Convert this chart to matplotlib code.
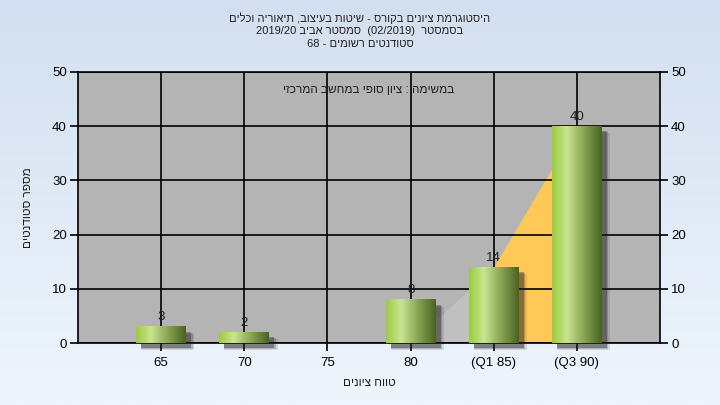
import re
import numpy as np
import matplotlib
matplotlib.use("Agg")
import matplotlib.pyplot as plt
from matplotlib.colors import LinearSegmentedColormap
from matplotlib.patches import Rectangle

plt.rcParams['font.family'] = ['Liberation Sans', 'DejaVu Sans']

# data
grades = [65, 70, 75, 80, 85, 90]
counts = [3, 2, 0, 8, 14, 40]
tick_labels = ['65', '70', '75', '80', '(Q1 85)', '(Q3 90)']
# shaded quartile area behind the bars
area_low_x = [80, 85]
area_low_y = [0, 14]
area_q_x = [85, 90]
area_q_y = [14, 40]

title_lines = [
    "היסטוגרמת ציונים בקורס - שיטות בעיצוב, תיאוריה וכלים",
    "בסמסטר  (02/2019)  סמסטר אביב 2019/20",
    "סטודנטים רשומים - 68",
]
task_text = "במשימה : ציון סופי במחשב המרכזי"
xlabel = "טווח ציונים"
ylabel = "מספר סטודנטים"


def heb(s):
    # matplotlib has no bidi: put the words right to left by hand
    out = []
    for tok in reversed(s.split(' ')):
        if re.search(r'[\u0590-\u05FF]', tok):
            out.append(tok[::-1])
        else:
            out.append(tok)
    return ' '.join(out)


fig = plt.figure(figsize=(7.2, 4.05), dpi=100)

# background gradient
bg = fig.add_axes([0, 0, 1, 1], zorder=-10)
grad = np.linspace(0, 1, 256).reshape(-1, 1)
bg_cmap = LinearSegmentedColormap.from_list('bg', ['#d3dff0', '#eef5fd'])
bg.imshow(grad, aspect='auto', cmap=bg_cmap, extent=[0, 1, 0, 1])
bg.axis('off')

ax = fig.add_axes([78 / 720, 1 - 343 / 405, (660 - 78) / 720, (343 - 72) / 405])
ax.set_facecolor('#b4b4b4')

ax.fill_between(area_low_x, 0, area_low_y, color='#c0c0c0', lw=0, zorder=1)
ax.fill_between(area_q_x, 0, area_q_y, color='#ffc957', lw=0, zorder=1)

ax.set_xticks(grades)
ax.set_xticklabels(tick_labels)
ax.set_yticks([0, 10, 20, 30, 40, 50])
ax.grid(True, color='black', lw=1.2, zorder=2)
ax.set_axisbelow(False)
for sp in ax.spines.values():
    sp.set_color('black')
    sp.set_linewidth(1.2)
    sp.set_zorder(2.5)
ax.tick_params(axis='both', colors='black', labelsize=9.5, length=6, width=1.2, direction='out')
ax.tick_params(axis='y', which='both', right=True, labelright=True, pad=2)
ax.tick_params(axis='x', pad=4)

bar_cmap = LinearSegmentedColormap.from_list(
    'bar', [(0, '#9ccc40'), (0.3, '#c9e592'), (0.6, '#90ac5c'), (1, '#4a6420')])
bar_w = 3.0
dx = 0.3
dy = 0.9
for g, c in zip(grades, counts):
    if c == 0:
        continue
    # soft shadow, a few stacked layers
    for k, a in enumerate([0.12, 0.2, 0.35]):
        sh = Rectangle((g - bar_w / 2 + dx, -dy - 0.2 * (2 - k)), bar_w + 0.1 * (2 - k),
                       c, facecolor='#202020', alpha=a, lw=0, zorder=3, clip_on=False)
        ax.add_patch(sh)
    ax.imshow(np.linspace(0, 1, 100).reshape(1, -1), cmap=bar_cmap, aspect='auto',
              extent=[g - bar_w / 2, g + bar_w / 2, 0, c], zorder=4, interpolation='bilinear')
    ax.text(g, c + 0.6, str(c), ha='center', va='bottom', fontsize=9.5, color='#202020', zorder=5)
ax.set_xlim(60, 95)
ax.set_ylim(0, 50)

ax.text(0.5, 0.935, heb(task_text), transform=ax.transAxes, ha='center', va='center',
        fontsize=8.5, color='#202020', zorder=5)

ax.set_xlabel(heb(xlabel), fontsize=8.5, color='#202020')
ax.xaxis.set_label_coords(0.5, -0.125)
ax.set_ylabel(heb(ylabel), fontsize=8.5, color='#202020')
ax.yaxis.set_label_coords(-0.076, 0.5)

for i, line in enumerate(title_lines):
    fig.text(0.5, 1 - (18 + 13 * i) / 405, heb(line), ha='center', va='center',
             fontsize=8, color='#202020')

fig.savefig('out.png', dpi=100)
